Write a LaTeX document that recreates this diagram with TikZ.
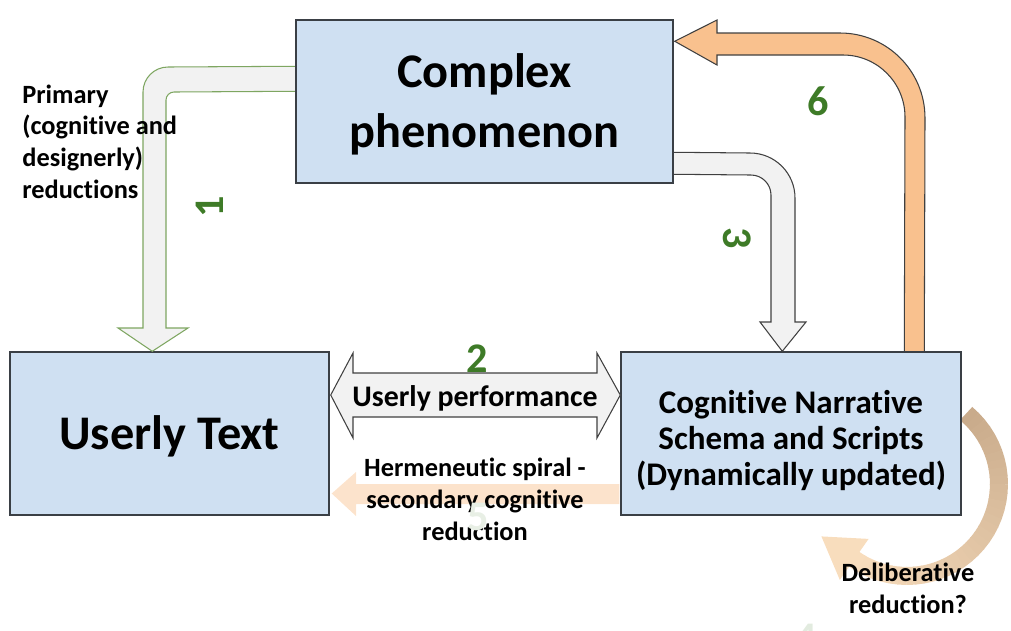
\documentclass[tikz,border=0pt]{standalone}
\usepackage{fontspec}
\setmainfont{Carlito}[Ligatures=NoCommon]
\usetikzlibrary{calc}

\definecolor{boxfill}{HTML}{CFE0F2}
\definecolor{boxline}{HTML}{3A3F45}
\definecolor{numgreen}{HTML}{3E7B27}
\definecolor{greenline}{HTML}{7EA661}
\definecolor{shaftgray}{HTML}{F2F2F2}
\definecolor{arrowline}{HTML}{404040}
\definecolor{peach}{HTML}{F9C18E}
\definecolor{arcTan}{HTML}{C9AB8B}
\definecolor{arcPale}{HTML}{F8DDBD}

\begin{document}
\begin{tikzpicture}[x=0.02cm,y=-0.02cm,
  block/.style={draw=boxline, fill=boxfill, line width=0.85pt, inner sep=0pt,
                minimum height=3.26cm},
  fatarrow/.style={draw=arrowline, fill=shaftgray, line width=0.6pt, line join=miter},
  fatgreen/.style={draw=greenline, fill=shaftgray, line width=0.6pt, line join=miter},
  fatpeach/.style={draw=arrowline, fill=peach, line width=0.6pt, line join=miter},
  bigtxt/.style={font=\fontsize{27.5}{34}\selectfont\bfseries, align=center, inner sep=0pt},
  midtxt/.style={font=\fontsize{18.8}{20.6}\selectfont\bfseries, align=center, inner sep=0pt},
  smalltxt/.style={font=\fontsize{15}{18}\selectfont\bfseries, inner sep=0pt},
  num/.style={font=\fontsize{24}{28}\selectfont\bfseries, text=numgreen, inner sep=0pt}
]
\useasboundingbox (0,0) rectangle (1011,630);

% deliberative reduction loop (drawn first, it runs behind the right box)
\foreach \i in {0,...,34}{
  \pgfmathsetmacro\aa{50-5*\i}
  \pgfmathsetmacro\ab{\aa-5.6}
  \pgfmathsetmacro\pp{100-100*\i/34}
  \draw[line width=0.36cm, color=arcTan!\pp!arcPale]
    ({907+92*cos(\aa)},{484-92*sin(\aa)}) -- ({907+92*cos(\ab)},{484-92*sin(\ab)});
}
\fill[arcPale] (821.4,536.4) -- (868.6,538.9) -- (839.8,579.9) -- cycle;

% boxes
\node[block, minimum width=7.54cm] (cp) at (484.5,101.5) {};
\node[block, minimum width=6.38cm] (ut) at (169.5,433.5) {};
\node[block, minimum width=6.80cm] (cn) at (791,433.5) {};
\node[bigtxt] (cpt) at ($(cp.center)+(0,3)$) {Complex\\phenomenon};
\node[bigtxt] (utt) at ($(ut.center)+(0,3)$) {Userly Text};
\node[midtxt] (cnt) at ($(cn.center)+(0,7)$)
  {Cognitive Narrative\\Schema and Scripts\\(Dynamically updated)};

% 1: primary reductions, phenomenon -> userly text
\draw[fatgreen] ($(cp.north west)+(-0.5,47)$) -- (168,67)
  .. controls (154.2,67) and (143,78.2) .. (143,92) -- (143,328) -- (118,328)
  -- ($(ut.north west)+(143,0)$) -- (188,328) -- (166,328) -- (166,100)
  .. controls (166,95.6) and (169.6,92) .. (174,92) -- ($(cp.north west)+(-0.5,72)$);

% 3: phenomenon -> schema
\draw[fatarrow] ($(cp.north east)+(0.5,133)$) -- (750,153)
  .. controls (774.9,153) and (795,173.1) .. (795,198) -- (795,322) -- (806,322)
  -- ($(cn.north west)+(162,0)$) -- (760,322) -- (771,322) -- (771,195)
  .. controls (771,184) and (762,175) .. (751,175) -- ($(cp.north east)+(0.5,155)$);

% 6: schema -> phenomenon
\draw[fatpeach] ($(cn.north west)+(284,-0.5)$) -- (905,117)
  .. controls (905,82.8) and (877.2,55) .. (843,55) -- (717,55) -- (717,65)
  -- ($(cp.north east)+(1,22)$) -- (717,20) -- (717,33) -- (840,33)
  .. controls (887,33) and (925,71) .. (925,118) -- ($(cn.north west)+(304,-0.5)$);

% 2: userly performance, two-way
\draw[fatarrow] (353,373) -- (597,373) -- (597,353) -- ($(cn.west)+(0,-38.5)$)
  -- (597,438) -- (597,417) -- (353,417) -- (353,438) -- ($(ut.east)+(1,-38.5)$)
  -- (353,353) -- cycle;

% 5: hermeneutic spiral, schema -> userly text
\fill[peach, opacity=0.45] ($(cn.west)+(-1,50.5)$) -- (356,484) -- (356,472)
  -- ($(ut.east)+(2,60)$) -- (356,516) -- (356,504) -- ($(cn.west)+(-1,70.5)$) -- cycle;

% labels
\node[smalltxt, anchor=base west, align=left] (lprim) at (22,198)
  {Primary\\(cognitive and\\designerly)\\reductions};
\node[font=\fontsize{17}{20}\selectfont\bfseries, inner sep=0pt] (lperf) at (475,398) {Userly performance};
\node[smalltxt, anchor=base, align=center] (lherm) at (475,540)
  {Hermeneutic spiral -\\secondary cognitive\\reduction};
\node[smalltxt, anchor=base, align=center] (ldelib) at (908,613)
  {Deliberative\\reduction?};

% step numbers
\node[num] (n1) at (210,207) [rotate=90] {1};
\node[num] (n2) at (477,359) {2};
\node[num] (n3) at (737,238) [rotate=-90] {3};
\node[num, text=numgreen!15] (n4) at (806,638) {4};
\node[num, text=numgreen!12] (n5) at (478,517) {5};
\node[num] (n6) at (818,101) {6};
\end{tikzpicture}
\end{document}
